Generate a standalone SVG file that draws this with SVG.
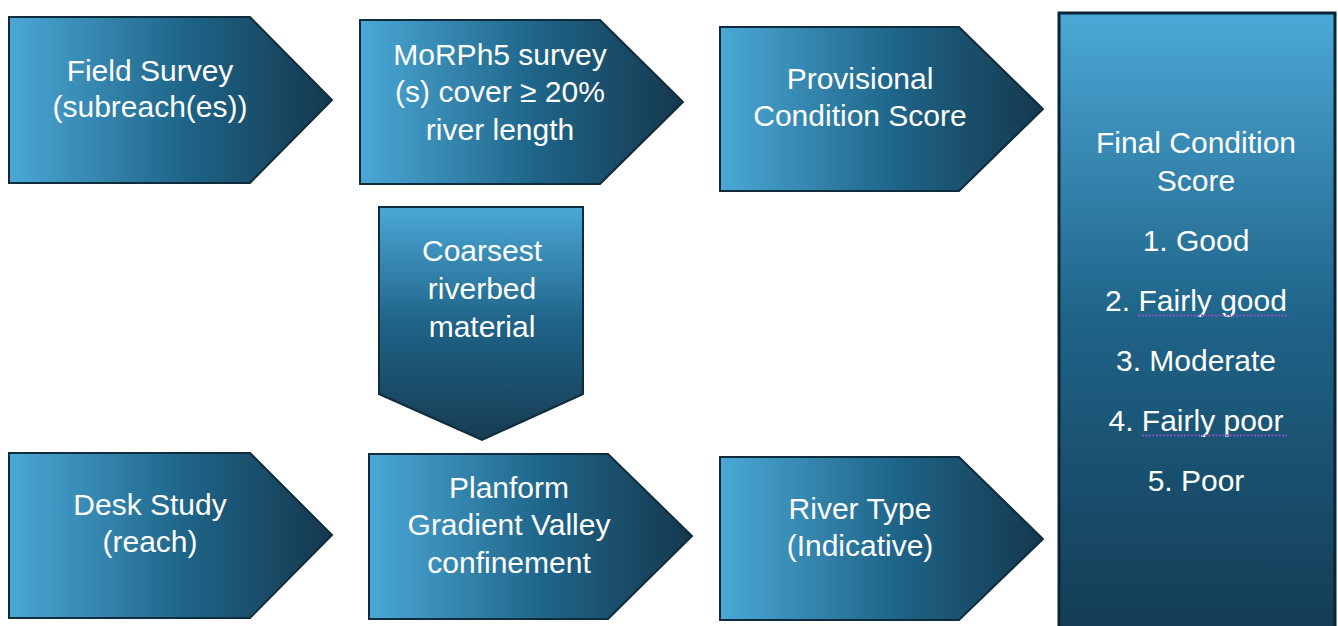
<svg xmlns="http://www.w3.org/2000/svg" width="1338" height="626" viewBox="0 0 1338 626">
<defs>
<linearGradient id="gh" x1="0" y1="0" x2="1" y2="0">
<stop offset="0" stop-color="#4ba8d6"/>
<stop offset="0.55" stop-color="#1e6488"/>
<stop offset="1" stop-color="#15384d"/>
</linearGradient>
<linearGradient id="gv" x1="0" y1="0" x2="0" y2="1">
<stop offset="0" stop-color="#4ba8d6"/>
<stop offset="0.5" stop-color="#1f6388"/>
<stop offset="1" stop-color="#163c52"/>
</linearGradient>
<linearGradient id="gr" gradientUnits="userSpaceOnUse" x1="0" y1="13" x2="0" y2="626">
<stop offset="0" stop-color="#4ba8d6"/>
<stop offset="0.5" stop-color="#1f6388"/>
<stop offset="1" stop-color="#143d56"/>
</linearGradient>
</defs>
<style>
.s{stroke:#0f2c3c;stroke-width:2;stroke-linejoin:miter}
.h{fill:url(#gh)}
.v{fill:url(#gv)}
text{font-family:"Liberation Sans",Arial,sans-serif;font-size:30px;fill:#ffffff;text-anchor:middle}
.u{stroke:#8453c4;stroke-width:2;stroke-dasharray:2 1.5;fill:none}
</style>
<rect width="1338" height="626" fill="#ffffff"/>
<g id="connectors"></g>
<g id="field-survey">
<polygon class="s h" points="9,17 250,17 332,100 250,183 9,183"/>
<text x="150" y="81">Field Survey</text>
<text x="150" y="117">(subreach(es))</text>
</g>
<g id="morph5-survey">
<polygon class="s h" points="360,20 600,20 683,102 600,184 360,184"/>
<text x="500" y="65">MoRPh5 survey</text>
<text x="500" y="102">(s) cover ≥ 20%</text>
<text x="500" y="140">river length</text>
</g>
<g id="provisional-score">
<polygon class="s h" points="720,27 959,27 1043,109 959,191 720,191"/>
<text x="860" y="89">Provisional</text>
<text x="860" y="126">Condition Score</text>
</g>
<g id="coarsest-material">
<polygon class="s v" points="379,207 583,207 583,394 482,440 379,394"/>
<text x="482" y="261">Coarsest</text>
<text x="482" y="299">riverbed</text>
<text x="482" y="337">material</text>
</g>
<g id="desk-study">
<polygon class="s h" points="9,453 250,453 332,535 250,618 9,618"/>
<text x="150" y="515">Desk Study</text>
<text x="150" y="552">(reach)</text>
</g>
<g id="planform">
<polygon class="s h" points="369,454 608,454 692,536 608,619 369,619"/>
<text x="509" y="498">Planform</text>
<text x="509" y="535">Gradient Valley</text>
<text x="509" y="573">confinement</text>
</g>
<g id="river-type">
<polygon class="s h" points="720,457 959,457 1043,539 959,620 720,620"/>
<text x="860" y="519">River Type</text>
<text x="860" y="556">(Indicative)</text>
</g>
<g id="final-score">
<rect x="1059" y="13" width="276" height="620" fill="url(#gr)" stroke="#0b2535" stroke-width="3"/>
<text x="1196" y="153">Final Condition</text>
<text x="1196" y="191">Score</text>
<text x="1196" y="251">1. Good</text>
<text x="1196" y="311">2. Fairly good</text>
<text x="1196" y="371">3. Moderate</text>
<text x="1196" y="431">4. Fairly poor</text>
<text x="1196" y="491">5. Poor</text>
<line class="u" x1="1138" y1="315.5" x2="1289" y2="315.5"/>
<line class="u" x1="1142" y1="435.5" x2="1287" y2="435.5"/>
</g>
</svg>
